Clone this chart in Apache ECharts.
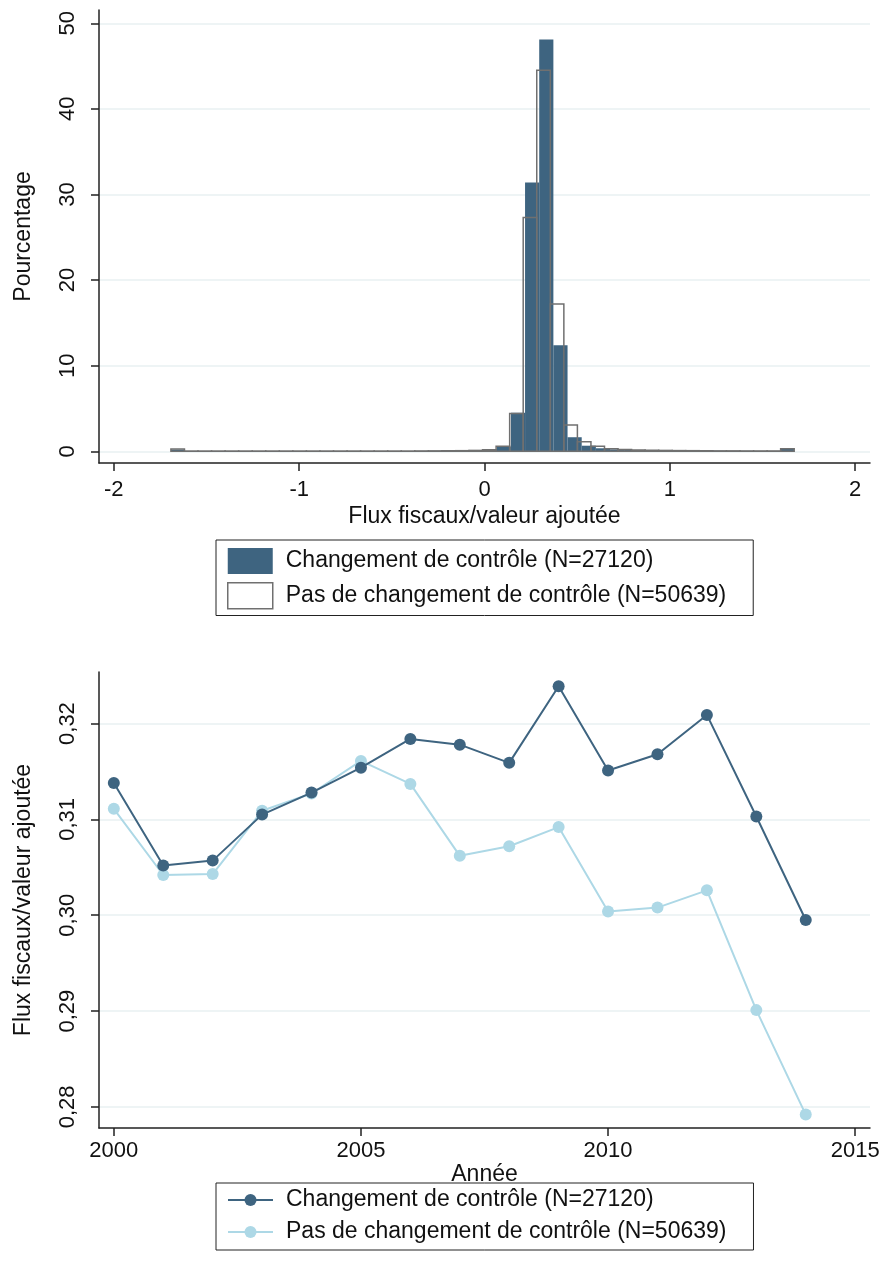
<!DOCTYPE html>
<html>
<head>
<meta charset="utf-8">
<script src="https://cdn.jsdelivr.net/npm/echarts@6/dist/echarts.min.js"></script>
<style>
html,body{margin:0;padding:0;background:#fff;}
#chart{width:885px;height:1274px;}
</style>
</head>
<body>
<div id="chart"></div>
<script>
// histogramme : bornes et hauteurs (%)
var histStart = -1.692;
var histEnd = 1.671;
var nomCtrl = 'Changement de contrôle (N=27120)';
var nomPas = 'Pas de changement de contrôle (N=50639)';
var histCtrl = [0.20, 0.03, 0.02, 0.02, 0.02, 0.02, 0.02, 0.02, 0.02, 0.02,
	0.02, 0.02, 0.02, 0.02, 0.03, 0.03, 0.03, 0.03, 0.04, 0.05,
	0.06, 0.08, 0.18, 0.55, 4.5, 31.4, 48.1, 12.4, 1.64, 0.65,
	0.35, 0.22, 0.15, 0.12, 0.09, 0.07, 0.06, 0.05, 0.05, 0.04,
	0.04, 0.03, 0.03, 0.30];
var histPas = [0.27, 0.03, 0.03, 0.03, 0.03, 0.03, 0.03, 0.03, 0.03, 0.03,
	0.03, 0.03, 0.03, 0.03, 0.03, 0.03, 0.03, 0.03, 0.04, 0.05,
	0.06, 0.07, 0.10, 0.18, 0.6, 4.4, 27.3, 44.5, 17.2, 3.07,
	1.1, 0.6, 0.3, 0.2, 0.15, 0.12, 0.10, 0.08, 0.07, 0.06,
	0.05, 0.05, 0.04, 0.04, 0.04, 0.30];
var histXTicks = [-2, -1, 0, 1, 2];
var histYTicks = [0, 10, 20, 30, 40, 50];

// évolution annuelle
var annees = [2000, 2001, 2002, 2003, 2004, 2005, 2006, 2007, 2008, 2009, 2010, 2011, 2012, 2013, 2014];
var fluxCtrl = [0.3138, 0.3052, 0.3057, 0.3105, 0.3128, 0.3154, 0.3184, 0.3178, 0.3159, 0.3239, 0.3151, 0.3168, 0.3209, 0.3103, 0.2995];
var fluxPas = [0.3111, 0.3042, 0.3043, 0.3109, 0.3127, 0.3161, 0.3137, 0.3062, 0.3072, 0.3092, 0.3004, 0.3008, 0.3026, 0.2901, 0.2792];
var anneeTicks = [2000, 2005, 2010, 2015];
var fluxTicks = [0.28, 0.29, 0.30, 0.31, 0.32];

var police = '"Liberation Sans", Arial, sans-serif';
var bleu = '#3e6480';
var bleuClair = '#add8e6';
var gris = '#707070';
var grille = '#e8f0f2';
var noir = '#222';

function bins(h){
	var w = (histEnd - histStart) / h.length;
	var out = [];
	for(var i=0;i<h.length;i++){
		out.push([histStart + i*w, histStart + (i+1)*w, h[i]]);
	}
	return out;
}

function barre(style){
	return function(params, api){
		var p0 = api.coord([api.value(0), api.value(2)]);
		var p1 = api.coord([api.value(1), 0]);
		return {type:'rect', shape:{x:p0[0], y:p0[1], width:p1[0]-p0[0], height:p1[1]-p0[1]}, style:style};
	};
}

function pts(x, y){
	var out = [];
	for(var i=0;i<x.length;i++) out.push([x[i], y[i]]);
	return out;
}

var axeLigne = {show:true, onZero:false, lineStyle:{color:noir, width:1.5}};
var lab = {color:'#111', fontSize:22, fontFamily:police};
var nomStyle = {color:'#111', fontSize:23, fontFamily:police};

var chart = echarts.init(document.getElementById('chart'));
var option = {
	animation:false,
	textStyle:{fontFamily:police},
	grid:[
		{left:99, top:10, width:771, height:453},
		{left:99, top:672, width:771, height:456}
	],
	xAxis:[
		{gridIndex:0, type:'value', min:-2.08, max:2.08,
			name:'Flux fiscaux/valeur ajoutée', nameLocation:'middle', nameGap:42, nameTextStyle:nomStyle,
			axisLine:axeLigne, axisTick:{length:8, lineStyle:{color:noir, width:1.5}, customValues:histXTicks},
			axisLabel:Object.assign({margin:16, customValues:histXTicks}, lab), splitLine:{show:false}},
		{gridIndex:1, type:'value', min:1999.7, max:2015.3,
			name:'Année', nameLocation:'middle', nameGap:31, nameTextStyle:nomStyle,
			axisLine:axeLigne, axisTick:{length:8, lineStyle:{color:noir, width:1.5}, customValues:anneeTicks},
			axisLabel:Object.assign({margin:12, customValues:anneeTicks, formatter:function(v){return String(v);}}, lab),
			splitLine:{show:false}}
	],
	yAxis:[
		{gridIndex:0, type:'value', min:-1.37, max:51.55,
			name:'Pourcentage', nameLocation:'middle', nameGap:64, nameTextStyle:nomStyle,
			axisLine:axeLigne, axisTick:{length:8, lineStyle:{color:noir, width:1.5}, customValues:histYTicks},
			axisLabel:Object.assign({margin:20, rotate:90, customValues:histYTicks}, lab),
			splitLine:{show:true, lineStyle:{color:grille, width:1.5}}},
		{gridIndex:1, type:'value', min:0.2778, max:0.32538,
			name:'Flux fiscaux/valeur ajoutée', nameLocation:'middle', nameGap:64, nameTextStyle:nomStyle,
			axisLine:axeLigne, axisTick:{length:8, lineStyle:{color:noir, width:1.5}, customValues:fluxTicks},
			axisLabel:Object.assign({margin:20, rotate:90, customValues:fluxTicks,
				formatter:function(v){return v.toFixed(2).replace('.', ',');}}, lab),
			splitLine:{show:true, lineStyle:{color:grille, width:1.5}}}
	],
	legend:[
		{orient:'vertical', left:216, top:540, padding:[8,27,6,11], itemGap:8, itemWidth:45, itemHeight:26,
			borderColor:noir, borderWidth:1, borderRadius:0, selectedMode:false,
			textStyle:{color:'#111', fontSize:23, fontFamily:police, padding:[0,0,0,8]},
			data:[
				{name:nomCtrl, icon:'rect', itemStyle:{color:bleu}},
				{name:nomPas, icon:'rect', itemStyle:{color:'#fff', borderColor:gris, borderWidth:1.5}}
			]},
		{orient:'vertical', left:216, top:1183, padding:[5,27,6,11], itemGap:8, itemWidth:45, itemHeight:15,
			borderColor:noir, borderWidth:1, borderRadius:0, selectedMode:false,
			formatter:function(n){return n.trim();},
			textStyle:{color:'#111', fontSize:23, lineHeight:24, fontFamily:police, padding:[0,0,0,8]},
			data:[nomCtrl + ' ', nomPas + ' ']}
	],
	series:[
		{name:nomCtrl, type:'custom', xAxisIndex:0, yAxisIndex:0, encode:{x:[0,1], y:2},
			renderItem:barre({fill:bleu}), itemStyle:{color:bleu}, data:bins(histCtrl), z:2},
		{name:nomPas, type:'custom', xAxisIndex:0, yAxisIndex:0, encode:{x:[0,1], y:2},
			renderItem:barre({fill:'none', stroke:gris, lineWidth:1.5}), itemStyle:{color:gris}, data:bins(histPas), z:3},
		{name:nomPas + ' ', type:'line', xAxisIndex:1, yAxisIndex:1, symbol:'circle', symbolSize:12,
			itemStyle:{color:bleuClair}, lineStyle:{color:bleuClair, width:2}, data:pts(annees, fluxPas), z:3},
		{name:nomCtrl + ' ', type:'line', xAxisIndex:1, yAxisIndex:1, symbol:'circle', symbolSize:12,
			itemStyle:{color:bleu}, lineStyle:{color:bleu, width:2}, data:pts(annees, fluxCtrl), z:4}
	]
};
chart.setOption(option);
</script>
</body>
</html>
